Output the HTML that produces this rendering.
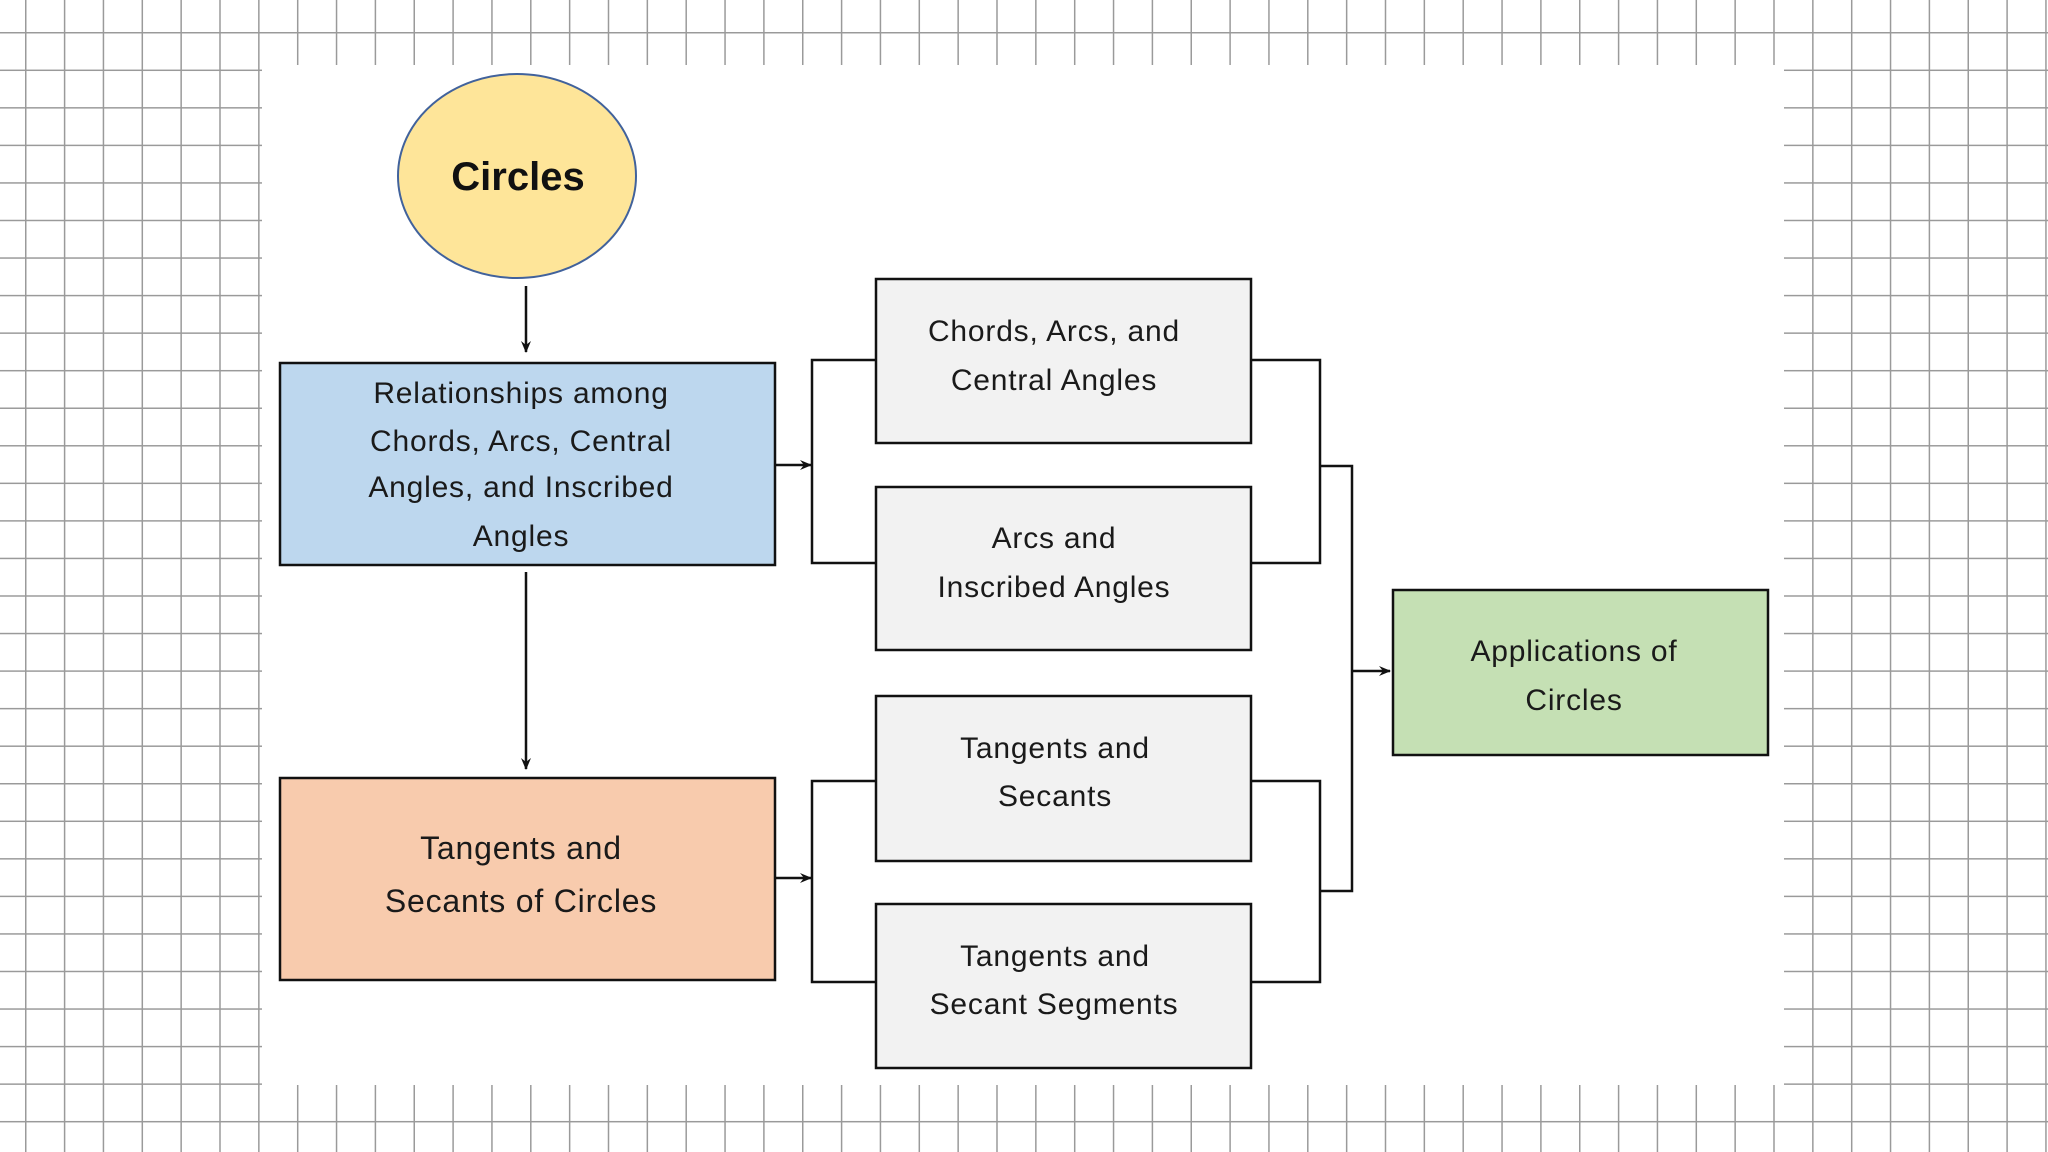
<!DOCTYPE html>
<html><head><meta charset="utf-8"><style>
html,body{margin:0;padding:0;background:#fff;}
svg{display:block;}
text{font-family:"Liberation Sans",sans-serif;fill:#1a1a1a;}
</style></head><body>
<svg width="2048" height="1152" viewBox="0 0 2048 1152" xmlns="http://www.w3.org/2000/svg">
<defs>
<pattern id="g" patternUnits="userSpaceOnUse" x="25" y="32" width="38.85" height="37.55">
<line x1="0.75" y1="0" x2="0.75" y2="37.55" stroke="#9a9a9a" stroke-width="1.5"/>
<line x1="0" y1="0.75" x2="38.85" y2="0.75" stroke="#9a9a9a" stroke-width="1.5"/>
</pattern>
<marker id="a" markerWidth="12" markerHeight="10" refX="11" refY="5" orient="auto" markerUnits="userSpaceOnUse">
<path d="M0,0 L12,5 L0,10 L4,5 Z" fill="#111"/>
</marker>
</defs>
<rect width="2048" height="1152" fill="#fff"/>
<rect width="2048" height="1152" fill="url(#g)"/>
<rect x="262" y="65" width="1522" height="1020" fill="#fff"/>

<!-- circle -->
<ellipse cx="517" cy="176" rx="119" ry="102" fill="#fee599" stroke="#41629c" stroke-width="2"/>
<text x="518" y="190" text-anchor="middle" font-size="40" font-weight="bold" style="fill:#111">Circles</text>

<g stroke="#111" stroke-width="2.5" fill="none">
<line x1="526" y1="286" x2="526" y2="352" marker-end="url(#a)"/>
<line x1="526" y1="572" x2="526" y2="769" marker-end="url(#a)"/>
<line x1="775" y1="465" x2="811" y2="465" marker-end="url(#a)"/>
<line x1="775" y1="878" x2="811" y2="878" marker-end="url(#a)"/>
<polyline points="876,360 812,360 812,563 876,563"/>
<polyline points="876,781 812,781 812,982 876,982"/>
<polyline points="1251,360 1320,360 1320,563 1251,563"/>
<polyline points="1251,781 1320,781 1320,982 1251,982"/>
<polyline points="1320,466 1352,466 1352,891 1320,891"/>
<line x1="1352" y1="671" x2="1390" y2="671" marker-end="url(#a)"/>
</g>

<g stroke="#111" stroke-width="2.5">
<rect x="280" y="363" width="495" height="202" fill="#bdd7ee"/>
<rect x="280" y="778" width="495" height="202" fill="#f8cbad"/>
<rect x="876" y="279" width="375" height="164" fill="#f2f2f2"/>
<rect x="876" y="487" width="375" height="163" fill="#f2f2f2"/>
<rect x="876" y="696" width="375" height="165" fill="#f2f2f2"/>
<rect x="876" y="904" width="375" height="164" fill="#f2f2f2"/>
<rect x="1393" y="590" width="375" height="165" fill="#c5e0b4"/>
</g>

<g font-size="30" text-anchor="middle" letter-spacing="0.8">
<text x="521" y="403">Relationships among</text>
<text x="521" y="451">Chords, Arcs, Central</text>
<text x="521" y="497">Angles, and Inscribed</text>
<text x="521" y="546">Angles</text>

<text x="521" y="859" font-size="32">Tangents and</text>
<text x="521" y="912" font-size="32">Secants of Circles</text>

<text x="1054" y="341">Chords, Arcs, and</text>
<text x="1054" y="390">Central Angles</text>
<text x="1054" y="548">Arcs and</text>
<text x="1054" y="597">Inscribed Angles</text>
<text x="1055" y="758">Tangents and</text>
<text x="1055" y="806">Secants</text>
<text x="1055" y="966">Tangents and</text>
<text x="1054" y="1014">Secant Segments</text>

<text x="1574" y="661">Applications of</text>
<text x="1574" y="710">Circles</text>
</g>
</svg>
</body></html>
